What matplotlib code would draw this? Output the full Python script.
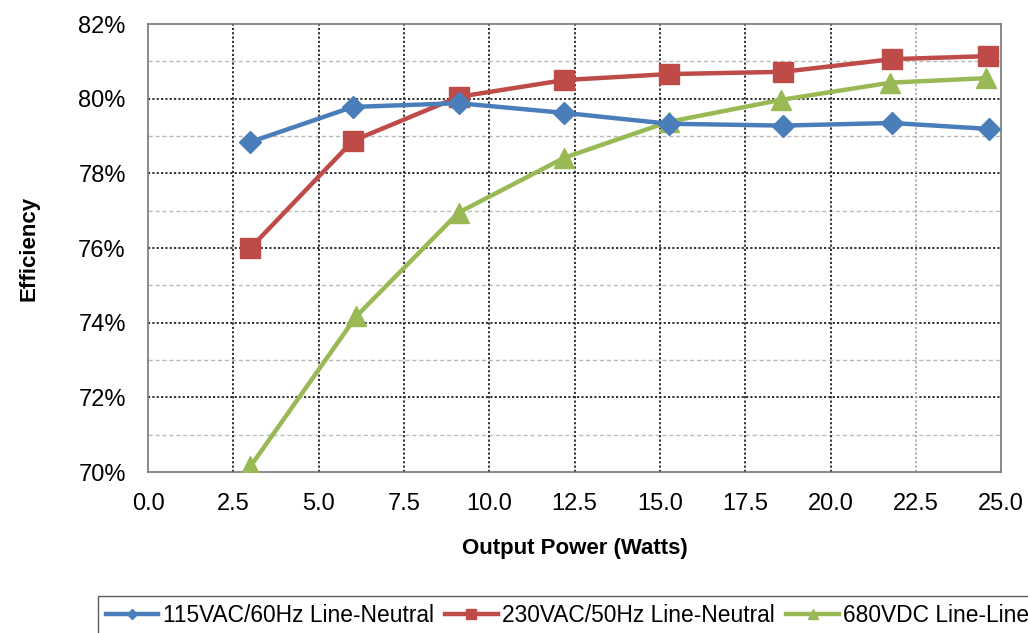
import numpy as np
import matplotlib
matplotlib.use('Agg')
import matplotlib.pyplot as plt
from matplotlib.ticker import MultipleLocator, FuncFormatter

# ── data ──
power_115 = [3.0, 6.0, 9.1, 12.2, 15.25, 18.6, 21.8, 24.65]
eff_115 = [78.84, 79.78, 79.88, 79.62, 79.33, 79.28, 79.35, 79.19]

power_230 = [3.0, 6.0, 9.1, 12.2, 15.25, 18.6, 21.8, 24.6]
eff_230 = [76.0, 78.87, 80.05, 80.50, 80.66, 80.72, 81.06, 81.14]

power_680 = [3.0, 6.1, 9.1, 12.2, 15.25, 18.55, 21.75, 24.55]
eff_680 = [70.15, 74.17, 76.95, 78.42, 79.38, 79.97, 80.43, 80.55]

labels = ['115VAC/60Hz Line-Neutral', '230VAC/50Hz Line-Neutral', '680VDC Line-Line']

BLUE = '#4A7EBB'
RED = '#BE4B48'
GREEN = '#98B954'

plt.rcParams['font.family'] = ['Liberation Sans', 'DejaVu Sans']

fig = plt.figure(figsize=(10.28, 6.33), dpi=100)
ax = fig.add_axes([0.144, 0.2543, 0.830, 0.7077])

ax.plot(power_115, eff_115, color=BLUE, lw=3.2, marker='D', ms=11,
        mec=BLUE, label=labels[0], zorder=5)
ax.plot(power_230, eff_230, color=RED, lw=3.2, marker='s', ms=14,
        mec=RED, label=labels[1], zorder=4)
ax.plot(power_680, eff_680, color=GREEN, lw=3.2, marker='^', ms=15,
        mec=GREEN, label=labels[2], zorder=3)

ax.set_xlim(0, 25)
ax.set_ylim(70, 82)
ax.xaxis.set_major_locator(MultipleLocator(2.5))
ax.yaxis.set_major_locator(MultipleLocator(2))
ax.yaxis.set_minor_locator(MultipleLocator(1))
ax.xaxis.set_major_formatter(FuncFormatter(lambda v, p: f'{v:.1f}'))
ax.yaxis.set_major_formatter(FuncFormatter(lambda v, p: f'{v:.0f}%'))

# grid: dark dotted majors, light dashed minors
for yv in np.arange(72, 82, 2):
    ax.axhline(yv, color='#222222', lw=1.3, ls=(0, (1.2, 1.2)), zorder=1)
for yv in np.arange(71, 82, 2):
    ax.axhline(yv, color='#BBBBBB', lw=1.0, ls=(0, (3, 2)), zorder=1)
for xv in np.arange(2.5, 25, 2.5):
    c = '#AAAAAA' if xv == 22.5 else '#222222'
    ax.axvline(xv, color=c, lw=1.3, ls=(0, (1.2, 1.2)), zorder=1)

for s in ax.spines.values():
    s.set_color('#777777')
    s.set_linewidth(1.2)
ax.tick_params(axis='both', which='both', length=0, labelsize=17)
ax.tick_params(axis='x', pad=15)
ax.tick_params(axis='y', pad=16)

ax.set_xlabel('Output Power (Watts)', fontsize=16, fontweight='bold', labelpad=17)
ax.set_ylabel('Efficiency', fontsize=16, fontweight='bold', labelpad=28)

# legend runs past the right edge of the figure
leg = fig.legend(loc='upper left', bbox_to_anchor=(0.0953, 0.0585), ncol=3,
                 fontsize=16.4, frameon=True, fancybox=False, edgecolor='#333333',
                 handlelength=2.3, handletextpad=0.2, columnspacing=0.5,
                 markerscale=0.5, borderpad=0.35, borderaxespad=0)
leg.get_frame().set_linewidth(1.0)

fig.savefig('out.png', dpi=100, facecolor='white')
